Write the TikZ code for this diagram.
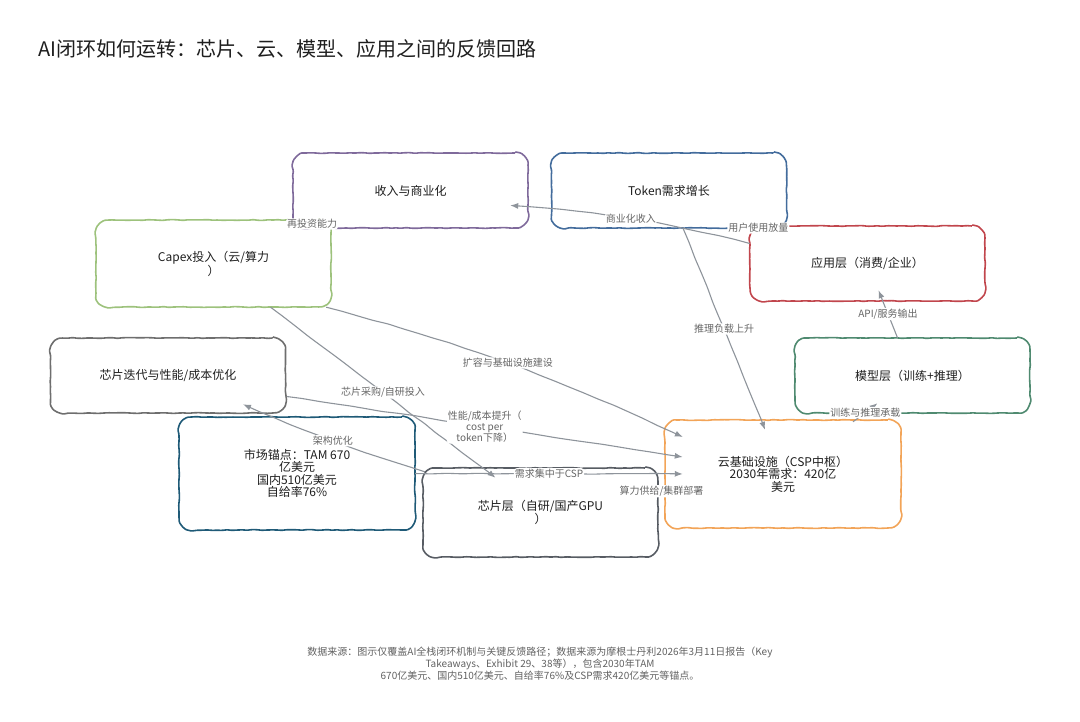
\documentclass[tikz,border=0pt]{standalone}
\usepackage{fontspec}
\setmainfont{Noto Sans CJK SC}
\usepackage{tikz}
\usetikzlibrary{arrows.meta,calc,decorations.pathmorphing}
\definecolor{revc}{HTML}{7F6A9B}
\definecolor{tokenc}{HTML}{436C9C}
\definecolor{capexc}{HTML}{9DC27C}
\definecolor{appc}{HTML}{C1464D}
\definecolor{iterc}{HTML}{6E6E6E}
\definecolor{modelc}{HTML}{4F8A70}
\definecolor{marketc}{HTML}{1F5A77}
\definecolor{chipc}{HTML}{575C63}
\definecolor{cloudc}{HTML}{F2A458}
\definecolor{linkc}{HTML}{8E949B}
\definecolor{ink}{HTML}{1E1E1E}

\begin{document}
\begin{tikzpicture}[x=1pt,y=-1pt,>={Latex[length=8pt,width=6pt]},
  box/.style={rounded corners=13pt,minimum width=235pt,minimum height=75pt,
              align=center,text=ink,font=\fontsize{12}{12.5}\selectfont,
              postaction={draw=#1,line width=1.6pt,rounded corners=1pt,decorate,
                decoration={random steps,segment length=5pt,amplitude=0.4pt}}},
  link/.style={->,draw=linkc,line width=1.1pt,rounded corners=3pt,decorate,
               decoration={random steps,segment length=16pt,amplitude=0.45pt}},
  lbl/.style={fill=white,inner sep=1pt,text=black!60,align=center,
              font=\fontsize{10}{11}\selectfont}]
\useasboundingbox (0,0) rectangle (1080,722);
\node[anchor=west,text=ink,font=\fontsize{20}{22}\selectfont] (title) at (35,49)
  {AI闭环如何运转：芯片、云、模型、应用之间的反馈回路};
% boxes
\node[box=revc] (rev) at (410.5,190.5) {收入与商业化};
\node[box=tokenc] (token) at (669,190.5) {Token需求增长};
\node[box=capexc,minimum height=87pt] (capex) at (213.5,263.5) {Capex投入（云/算力\\）};
\node[box=appc] (app) at (867.5,263.5) {应用层（消费/企业）};
\node[box=iterc] (iter) at (168,375.5) {芯片迭代与性能/成本优化};
\node[box=modelc] (model) at (912.5,375.5) {模型层（训练+推理）};
\node[box=marketc,minimum width=236pt,minimum height=113pt] (market) at (297,473.5)
  {市场锚点：TAM 670\\亿美元\\国内510亿美元\\自给率76\%};
\node[box=chipc,minimum height=89pt] (chipL) at (540.5,512.5) {芯片层（自研/国产GPU\\）};
\node[box=cloudc,minimum width=236pt,minimum height=108pt] (cloud) at (783,474)
  {云基础设施（CSP中枢）\\2030年需求：420亿\\美元};
% links
\draw[link] ($(capex.south east)+(-5,0)$) to[bend left=5]
  node[lbl] {扩容与基础设施建设} ($(cloud.west)+(18,-37)$);
\draw[link] ($(capex.south)+(57,0)$) -- node[lbl] {芯片采购/自研投入} ($(chipL.north)+(-45,10)$);
\draw[link] ($(iter.east)+(1,21)$) -- node[lbl] {性能/成本提升（\\cost per\\token下降）} ($(cloud.west)+(18,-17)$);
\draw[link] ($(chipL.north west)+(2,4)$) to[bend left=3] node[lbl] {架构优化} ($(iter.south)+(75,-9)$);
\draw[link] (market.east) -- node[lbl] {需求集中于CSP} ($(cloud.west)+(18,0)$);
\draw[link] ($(cloud.west)+(2,17)$) -- node[lbl] {算力供给/集群部署} ($(chipL.east)+(-2,-21)$);
\draw[link] ($(token.south)+(14,0)$) -- node[lbl] {推理负载上升} ($(cloud.north)+(-18,10)$);
\draw[link] ($(app.west)+(0,-20)$) to[bend right=5] node[lbl] {商业化收入} ($(rev.east)+(-18,15)$);
\draw[link] ($(app.north west)+(32,2)$) -- node[lbl] {用户使用放量} ($(token.south east)+(-52,0)$);
\draw[link] (rev.south west) -- node[lbl] {再投资能力} (capex.north east);
\draw[link] ($(model.north)+(-15,0)$) -- node[lbl] {API/服务输出} ($(app.south)+(11,-11)$);
\draw[link] ($(cloud.north)+(70,2)$) -- node[lbl] {训练与推理承载} ($(model.south)+(-35,-10)$);
% source note
\node[align=center,text=black!62,font=\fontsize{10}{12}\selectfont] (note) at (540,664)
  {数据来源：图示仅覆盖AI全栈闭环机制与关键反馈路径；数据来源为摩根士丹利2026年3月11日报告（Key\\
   Takeaways、Exhibit 29、38等），包含2030年TAM\\
   670亿美元、国内510亿美元、自给率76\%及CSP需求420亿美元等锚点。};
\end{tikzpicture}
\end{document}
